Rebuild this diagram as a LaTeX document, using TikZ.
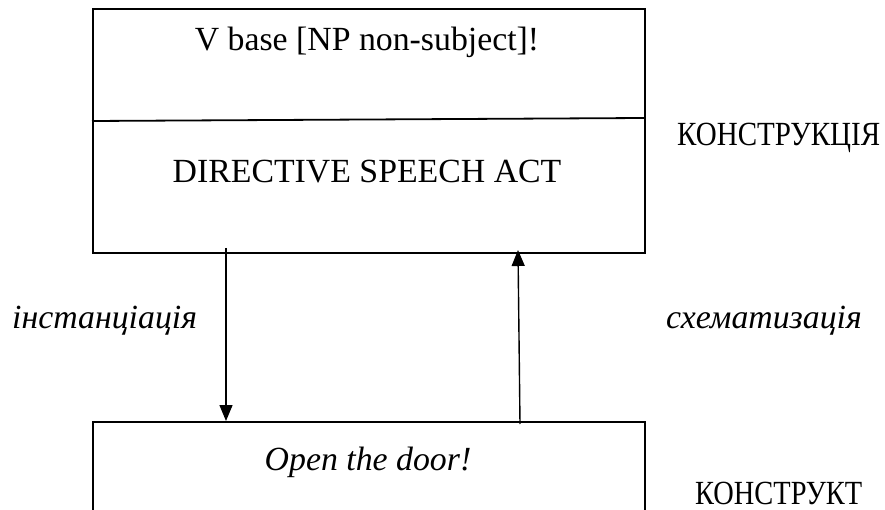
\documentclass[tikz,border=0pt]{standalone}
\usepackage{fontspec}
\setmainfont{Liberation Serif}
\usetikzlibrary{arrows.meta}
\begin{document}
\begin{tikzpicture}[x=1pt,y=-1pt,
  box/.style={draw, line width=1.8pt, minimum width=552pt, anchor=north west, inner sep=0pt},
  lbl/.style={font=\fontsize{33.8}{40}\selectfont, inner sep=0pt},
  ilbl/.style={font=\fontsize{33.8}{40}\selectfont\itshape, inner sep=0pt},
  arr/.style={line width=1.4pt, -{Triangle[width=13pt,length=16pt]}}]
\useasboundingbox (0,0) rectangle (885,510);
\clip (0,0) rectangle (885,510);
% boxes
\node[box, minimum height=244pt] (top) at (92,8) {};
\node[box, minimum height=200pt] (bot) at (92,421) {};
% divider
\coordinate (dl) at (92,121);
\coordinate (dr) at (644,118);
\draw[line width=1.8pt] (dl) -- (dr);
% texts
\node[lbl, anchor=base] (form) at (367,51) {V base [NP non-subject]!};
\node[lbl, anchor=base] (mean) at (367,183) {DIRECTIVE SPEECH ACT};
\node[lbl, anchor=base west] (kc) at (677,146) {\resizebox{203pt}{\height}{КОНСТРУКЦІЯ}};
\node[ilbl, anchor=base west] (inst) at (12,328) {інстанціація};
\node[ilbl, anchor=base east] (sch) at (862,328) {схематизація};
\node[ilbl, anchor=base] (ex) at (368,470) {Open the door!};
\node[lbl, anchor=base west] (kt) at (695,504) {\resizebox{167pt}{\height}{КОНСТРУКТ}};
% arrows
\coordinate (a1s) at (226,248);
\coordinate (a1e) at (226,421);
\coordinate (a2s) at (520,424);
\coordinate (a2e) at (518,250);
\draw[arr] (a1s) -- (a1e);
\draw[arr] (a2s) -- (a2e);
\end{tikzpicture}
\end{document}
